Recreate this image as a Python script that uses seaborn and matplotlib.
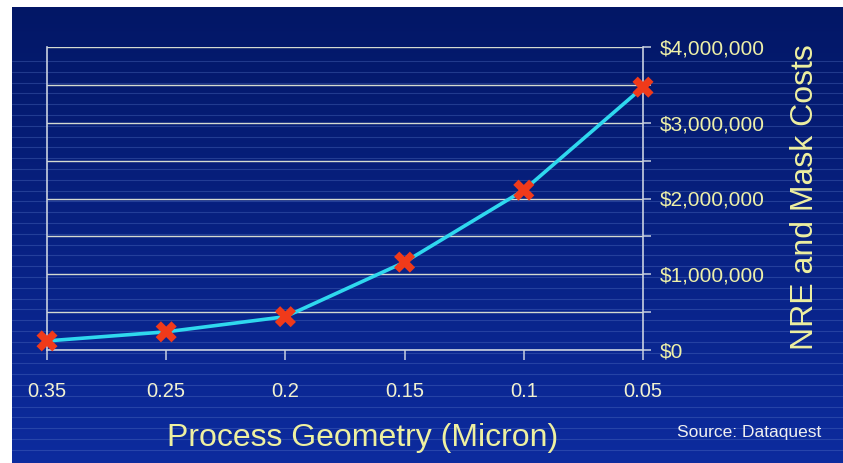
import numpy as np
import pandas as pd
import seaborn as sns
import matplotlib.pyplot as plt
from matplotlib.ticker import FuncFormatter, MultipleLocator

# data
geometry = ['0.35', '0.25', '0.2', '0.15', '0.1', '0.05']
cost = [120000, 240000, 440000, 1160000, 2110000, 3470000]

df = pd.DataFrame({'geometry': geometry, 'cost': cost})

def dollars(x, pos):
    return f'${x:,.0f}'

sns.set_style('white')
plt.rcParams['font.family'] = ['Liberation Sans', 'DejaVu Sans']

W, H = 843, 463
fig = plt.figure(figsize=(W / 100, H / 100), dpi=100, facecolor='white')

# slide background: blue gradient with faint horizontal stripes
bg = fig.add_axes([12 / W, 0, (W - 12) / W, (H - 7) / H])
grad = np.linspace(0, 1, 256).reshape(-1, 1)
top = np.array([0.01, 0.09, 0.40])
bot = np.array([0.05, 0.17, 0.62])
img = top + (bot - top) * grad[:, :, None]
bg.imshow(img, aspect='auto', extent=[0, 1, 0, 1], origin='upper')
for y in np.arange(H - 61, 10, -10.8):
    bg.axhline(y / (H - 7), color='#5a78c8', lw=0.8, alpha=0.35)
bg.set_xlim(0, 1)
bg.set_ylim(0, 1)
bg.axis('off')

ax = fig.add_axes([47 / W, (H - 350) / H, 596 / W, 303 / H])
ax.set_facecolor('none')

sns.lineplot(data=df, x='geometry', y='cost', ax=ax, color='#2fd8ee',
             lw=2.6, sort=False, zorder=3)
sns.scatterplot(data=df, x='geometry', y='cost', ax=ax, marker='X', s=230,
                color='#f03a1a', edgecolor='none', zorder=4, clip_on=False)

ax.set_xlim(0, len(geometry) - 1)
ax.set_ylim(0, 4000000)
ax.yaxis.set_major_locator(MultipleLocator(1000000))
ax.yaxis.set_minor_locator(MultipleLocator(500000))
ax.yaxis.set_major_formatter(FuncFormatter(dollars))
ax.yaxis.tick_right()
ax.grid(True, axis='y', which='both', color='#d4dad0', lw=1.0)
ax.set_axisbelow(True)

for s in ['left', 'right', 'bottom']:
    ax.spines[s].set_visible(True)
    ax.spines[s].set_color('#c8d0e0')
    ax.spines[s].set_linewidth(1.2)
ax.spines['top'].set_visible(False)

ax.tick_params(axis='y', which='both', right=True, left=False, length=6,
               width=1.1, color='#c8d0e0', labelsize=15, labelcolor='#eef0a8', pad=6)
ax.tick_params(axis='x', bottom=True, length=7, width=1.1, color='#c8d0e0',
               labelsize=14.5, labelcolor='#f2f2d0', pad=16)

ax.set_xlabel('Process Geometry (Micron)', fontsize=23, color='#eef0a0', va='center')
ax.xaxis.set_label_coords(0.53, -0.29)
ax.set_ylabel('NRE and Mask Costs', fontsize=23, color='#eef0a0', va='center')
ax.yaxis.set_label_position('right')
ax.yaxis.set_label_coords(1.246, 0.505)

fig.text(677 / W, 31 / H, 'Source: Dataquest', fontsize=12.5, color='#f0f0f0',
         va='center', ha='left')

fig.savefig('out.png', dpi=100)
